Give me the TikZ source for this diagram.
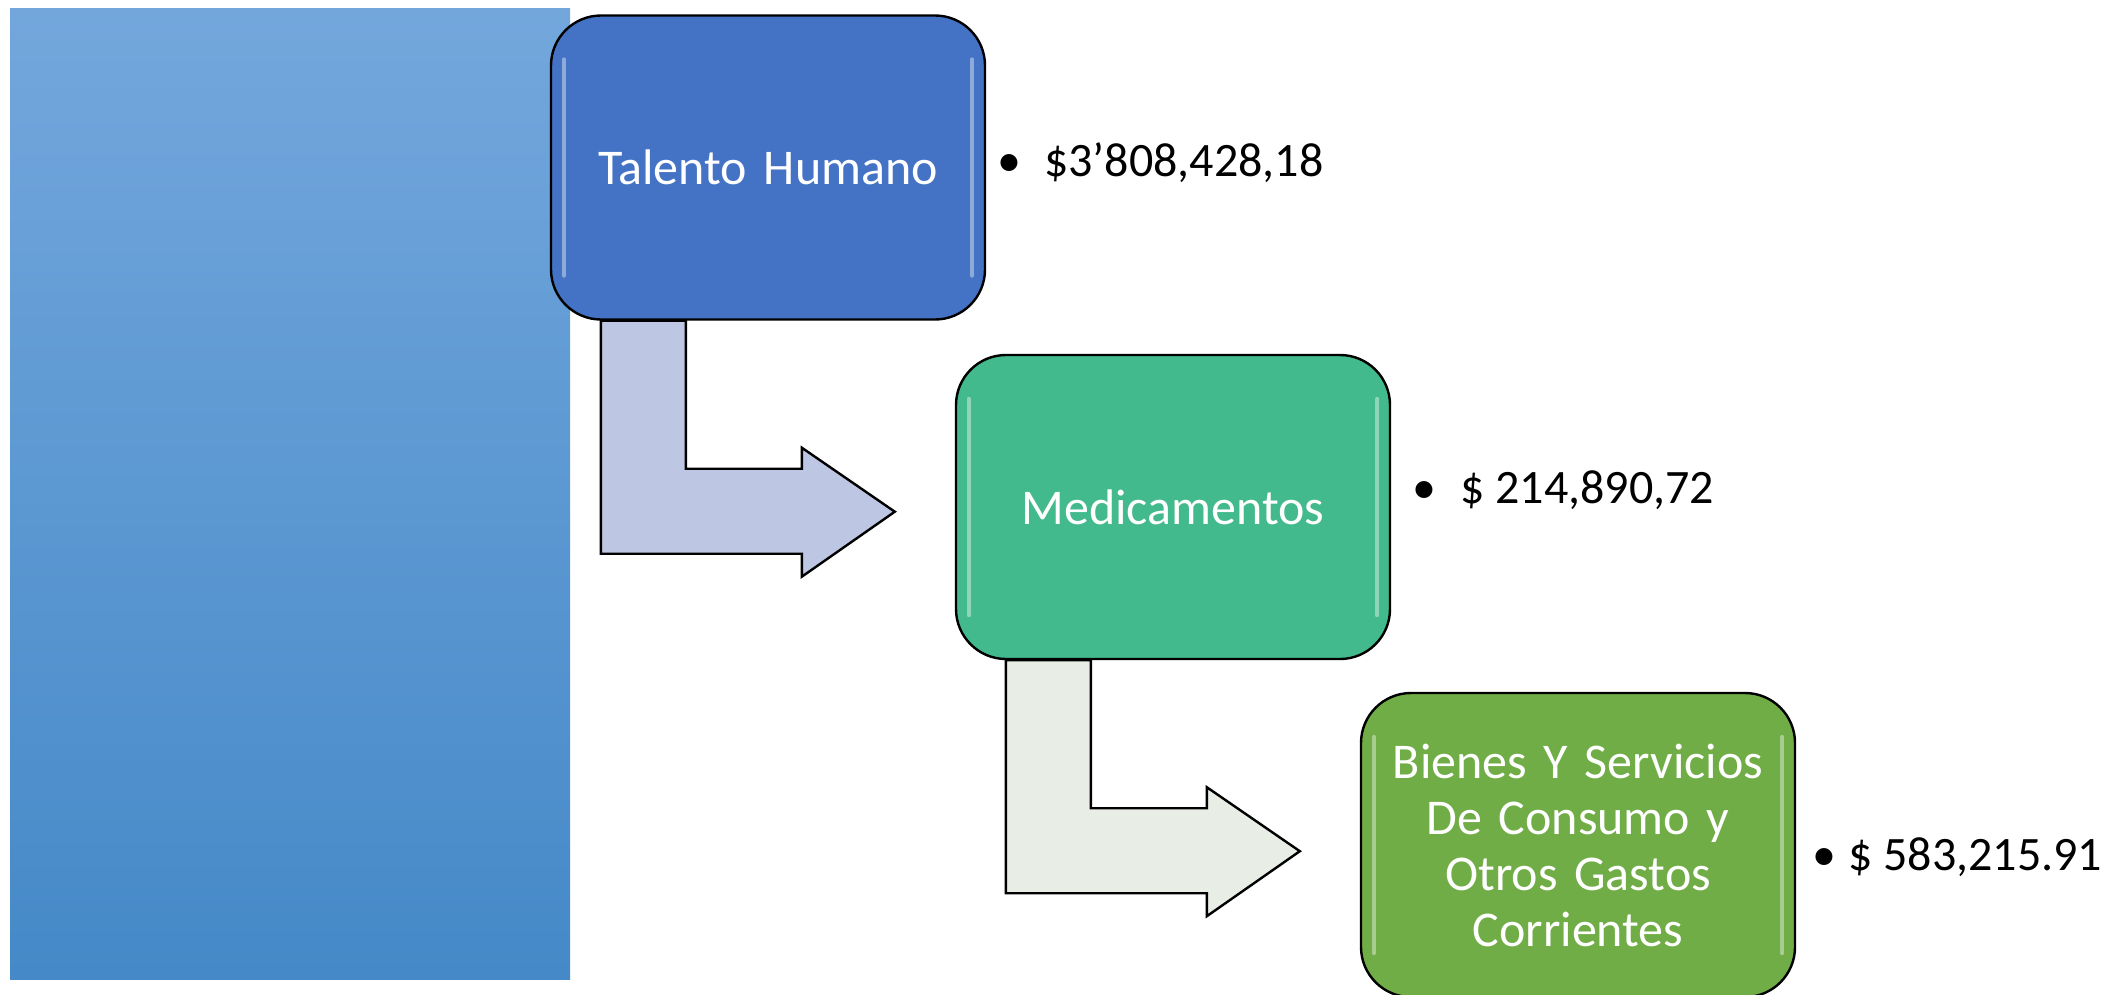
\documentclass[tikz,border=0pt]{standalone}
\usepackage{fontspec}
\setmainfont{Carlito}

\definecolor{azulsup}{HTML}{73A7DC}
\definecolor{azulinf}{HTML}{4589C8}
\definecolor{azulcaja}{HTML}{4472C4}
\definecolor{verdeagua}{HTML}{43BA8D}
\definecolor{verdehoja}{HTML}{71AD47}
\definecolor{lavanda}{HTML}{BDC6E2}
\definecolor{grisverde}{HTML}{E8EDE6}

\tikzset{
  caja/.style={draw=black, line width=2.4pt, rounded corners=50pt,
    minimum width=434pt, minimum height=304pt, text width=400pt,
    align=center, inner sep=0pt, text=white,
    font=\fontsize{50}{56}\selectfont},
  flecha/.style={draw=black, line width=2.4pt, line join=miter},
  valor/.style={anchor=base west, inner sep=0pt,
    font=\fontsize{48}{56}\selectfont},
  brillo/.style={white, opacity=0.4, line width=4pt, line cap=round}
}

% flecha en codo que sale de la caja #1
\newcommand{\flechacodo}[2]{%
  \draw[flecha, fill=#2, shift={(#1.south west)}]
    (51,0) -- (136,0) -- (136,148) -- (252,148) -- (252,127)
    -- (345,191) -- (252,256) -- (252,233) -- (51,233) -- cycle;}

\begin{document}
\begin{tikzpicture}[x=1pt, y=-1pt]
    \useasboundingbox (0,0) rectangle (2108,994);

    % Panel azul de la izquierda
    \shade[top color=azulsup, bottom color=azulinf] (10,8) rectangle (570,979);

    % Cajas
    \node[caja, fill=azulcaja] (th) at (768,167.5) {Talento Humano};
    \node[caja, fill=verdeagua] (mc) at (1173,507) {Medicamentos};
    \node[caja, fill=verdehoja] (bs) at (1578,845)
      {Bienes Y Servicios\\De Consumo y\\Otros Gastos\\Corrientes};

    % Brillo de los bordes
    \foreach \n in {th, mc, bs} {
      \draw[brillo] ([shift={(14,45)}]\n.north west) -- ([shift={(14,-45)}]\n.south west);
      \draw[brillo] ([shift={(-14,45)}]\n.north east) -- ([shift={(-14,-45)}]\n.south east);
    }

    % Flechas entre cajas
    \flechacodo{th}{lavanda}
    \flechacodo{mc}{grisverde}

    % Montos
    \node[valor] (v1) at (997,176) {\makebox[47pt][l]{•}\$3’808,428,18};
    \node[valor] (v2) at (1412,503) {\makebox[48pt][l]{•}\$ 214,890,72};
    \node[valor] (v3) at (1812,870) {\makebox[36pt][l]{•}\$ 583,215.91};
\end{tikzpicture}
\end{document}
